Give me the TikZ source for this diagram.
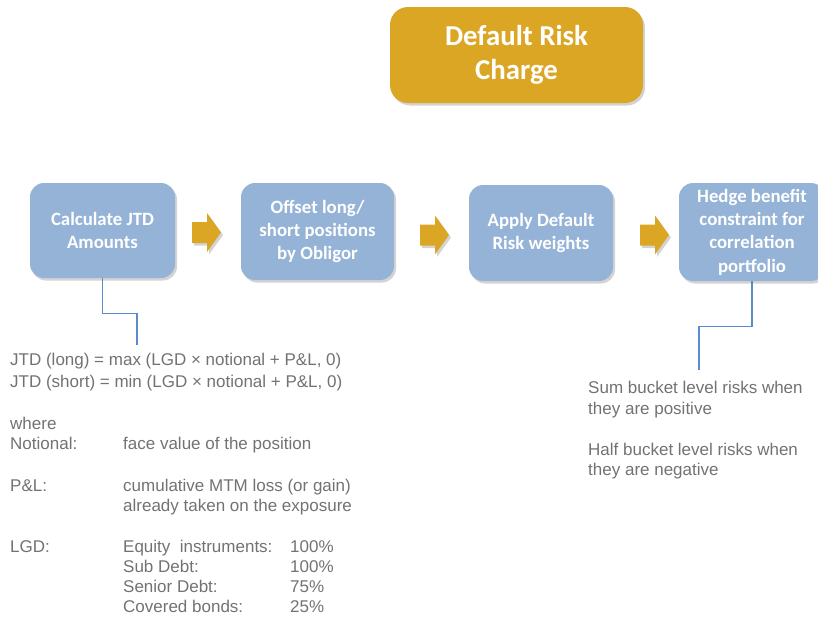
\documentclass[tikz,border=0pt]{standalone}
\usepackage{fontspec}
\setmainfont{Liberation Sans}
\newfontfamily\boxfont{Carlito}
\usetikzlibrary{shadows}
\definecolor{gold}{HTML}{DBA623}
\definecolor{steel}{HTML}{95B3D7}
\definecolor{linkblue}{HTML}{5B8BCF}
\definecolor{notegray}{HTML}{727272}
\begin{document}
\begin{tikzpicture}[x=1pt,y=-1pt,
  softshadow/.style={drop shadow={opacity=0.35,shadow xshift=2pt,shadow yshift=-2.5pt}},
  stepbox/.style={fill=steel,rounded corners=14pt,softshadow,text=white,
    font=\boxfont\bfseries\fontsize{18.8}{23.3}\selectfont,align=center,inner sep=0pt},
  titlebox/.style={fill=gold,rounded corners=18pt,softshadow,text=white,
    font=\boxfont\bfseries\fontsize{28.8}{34}\selectfont,align=center,inner sep=0pt},
  flowarrow/.style={fill=gold,softshadow},
  link/.style={draw=linkblue,line width=1.2pt},
  note/.style={text=notegray,font=\fontsize{17}{20}\selectfont,anchor=base west,inner sep=0pt},
]
\useasboundingbox (0,0) rectangle (818,616);

% title
\node[titlebox,minimum width=253pt,minimum height=96pt] (title) at (516.5,55) {Default Risk\\Charge};

% process steps
\node[stepbox,minimum width=145pt,minimum height=95pt] (s1) at (102.5,230.5) {Calculate JTD\\Amounts};
\node[stepbox,minimum width=153pt,minimum height=97pt] (s2) at (317.5,231.5) {Offset long/\\short positions\\by Obligor};
\node[stepbox,minimum width=144pt,minimum height=96pt] (s3) at (541,233) {Apply Default\\Risk weights};
\node[stepbox,minimum width=146pt,minimum height=98pt] (s4) at (752,232) {Hedge benefit\\constraint for\\correlation\\portfolio};

% block arrows between the steps
\foreach \x/\y in {192/232.5, 420/235, 640/235}{
  \fill[flowarrow] (\x,\y-10.5) -- ++(15,0) -- ++(0,-9) -- ++(14,19.5)
     -- ++(-14,19.5) -- ++(0,-9) -- ++(-15,0) -- cycle;
}

% connectors to the notes
\coordinate (c1) at (137,345);
\coordinate (c2) at (699,370);
\draw[link] (s1.south) -- ++(0,35) -| (c1);
\draw[link] (s4.south) -- ++(0,45) -| (c2);

% left notes (baselines)
\node[note] (n1) at (10,365) {JTD (long) = max (LGD × notional + P\&L, 0)};
\node[note] (n2) at (10,387) {JTD (short) = min (LGD × notional + P\&L, 0)};
\node[note] (n3) at (10,429) {where};
\node[note] (n4) at (10,449) {Notional:};
\node[note] (n5) at (123,449) {face value of the position};
\node[note] (n6) at (10,491) {P\&L:};
\node[note] (n7) at (123,491) {cumulative MTM loss (or gain)};
\node[note] (n8) at (123,511) {already taken on the exposure};
\node[note] (n9) at (10,552) {LGD:};
\node[note] (l1) at (123,552) {Equity\ \ instruments:};
\node[note] (l2) at (123,572) {Sub Debt:};
\node[note] (l3) at (123,592) {Senior Debt:};
\node[note] (l4) at (123,612) {Covered bonds:};
\node[note] (p1) at (290,552) {100\%};
\node[note] (p2) at (290,572) {100\%};
\node[note] (p3) at (290,592) {75\%};
\node[note] (p4) at (290,612) {25\%};

% right notes (baselines)
\node[note] (r1) at (588,393) {Sum bucket level risks when};
\node[note] (r2) at (588,414) {they are positive};
\node[note] (r3) at (588,455) {Half bucket level risks when};
\node[note] (r4) at (588,475) {they are negative};
\end{tikzpicture}
\end{document}
